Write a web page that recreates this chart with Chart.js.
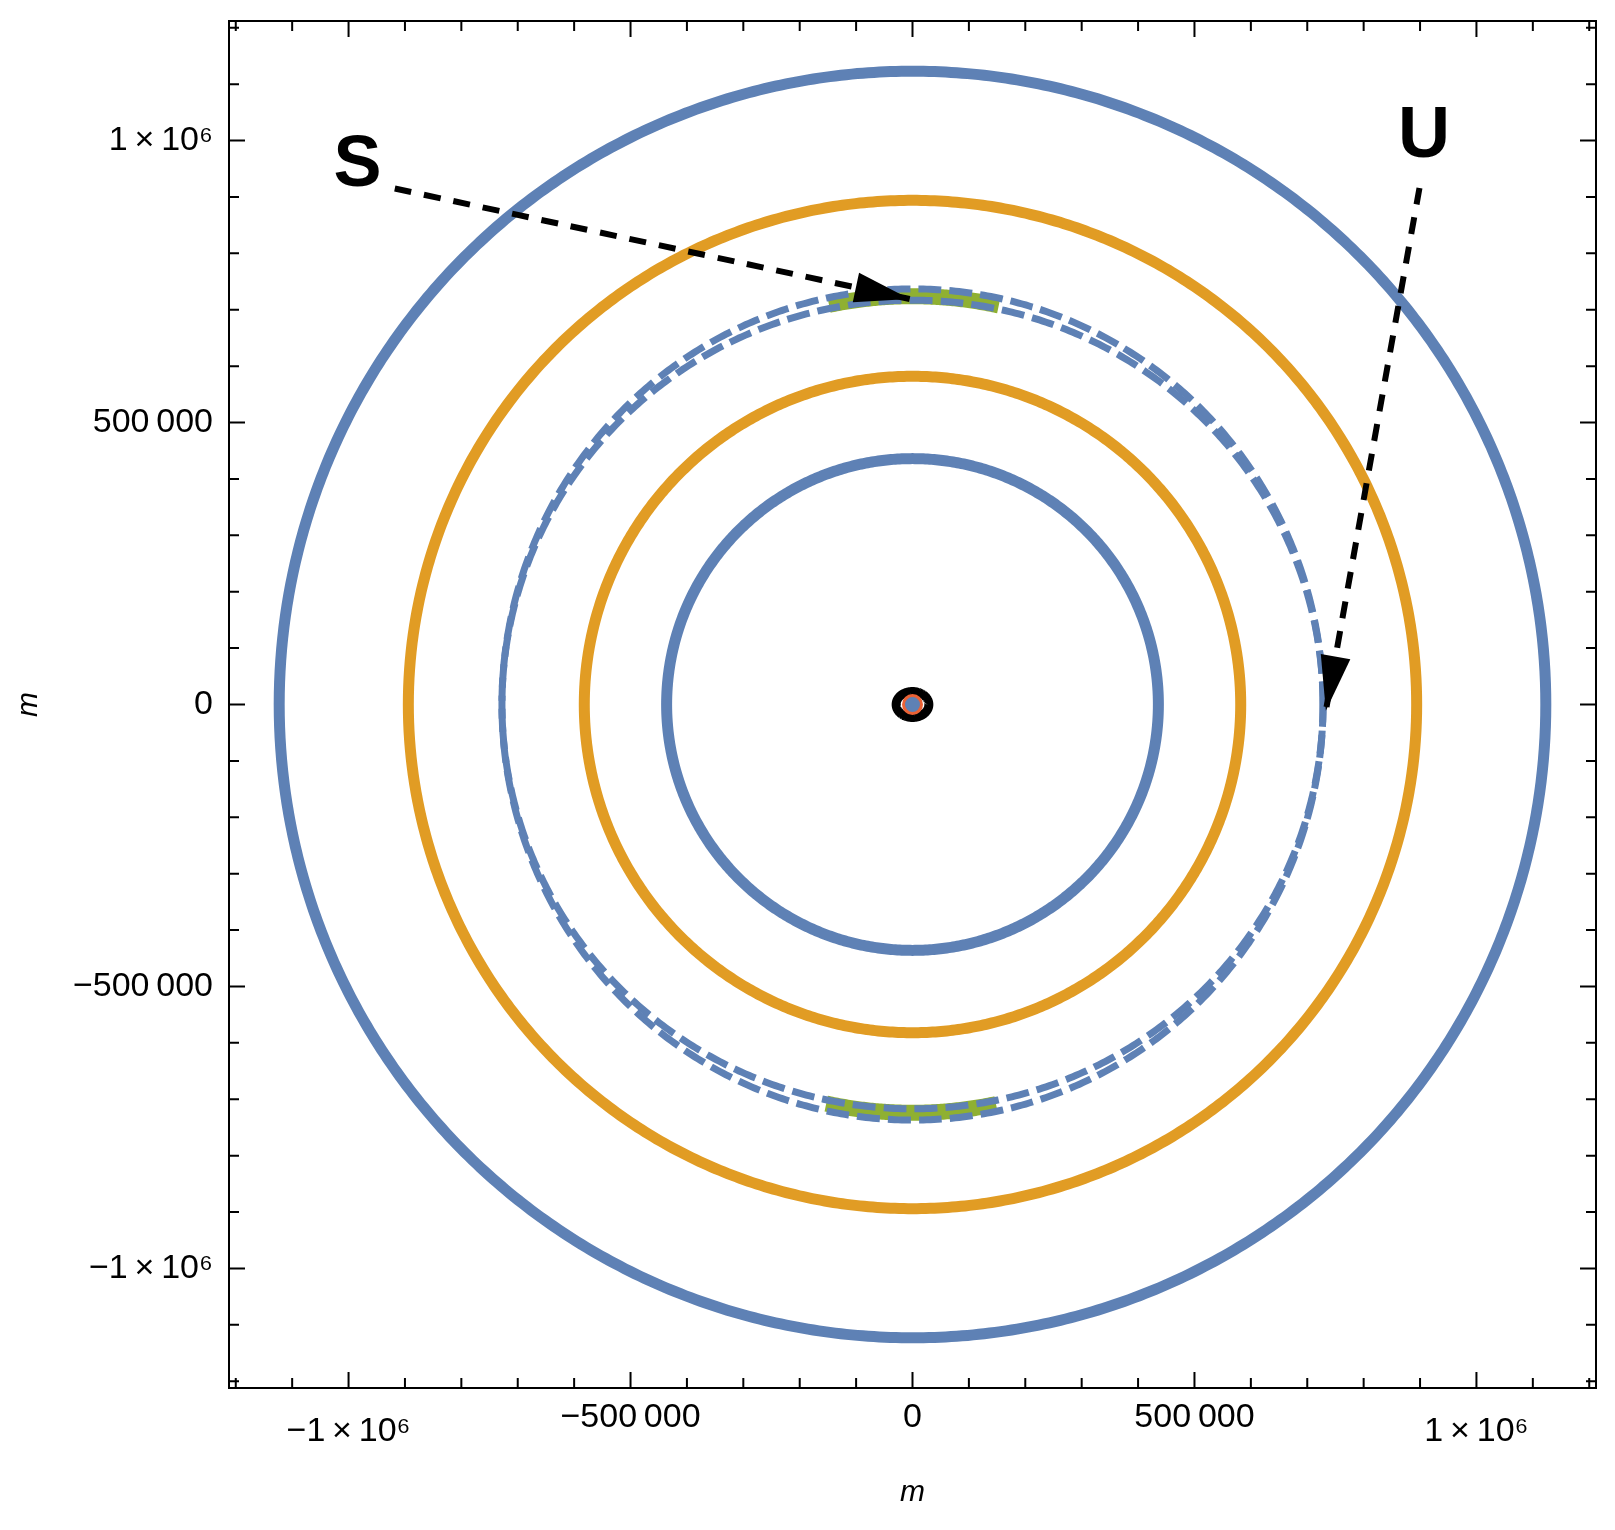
<!DOCTYPE html>
<html>
<head>
<meta charset="utf-8">
<script src="https://cdn.jsdelivr.net/npm/chart.js@4.4.1/dist/chart.umd.min.js"></script>
<style>
  body { margin: 0; background: #fff; }
  #wrap { width: 1615px; height: 1530px; }
</style>
</head>
<body>
<div id="wrap"><canvas id="orbits"></canvas></div>
<script>
// axis range and ticks (metres)
const axisMin = -1212000;
const axisMax = 1212000;
const majorTicks = [-1000000, -500000, 0, 500000, 1000000];
const majorLabels = ['−1\u2009×\u200910⁶', '−500\u2009000', '0', '500\u2009000', '1\u2009×\u200910⁶'];
const minorTicks = [-1200000, -1100000, -900000, -800000, -700000, -600000, -400000, -300000, -200000, -100000,
    100000, 200000, 300000, 400000, 600000, 700000, 800000, 900000, 1100000, 1200000];

// orbit sizes
const blueRadii = [436000, 1123000];
const orangeRadii = [582000, 894000];
const dashedRx = [728000, 728000];
const dashedRy = [737000, 717000];
const greenRadius = 724000;
const greenHalfSpan = 153000;
const coreRx = 29000;
const coreRy = 23000;

// annotation arrows: start -> tip
const arrowSx = [-918000, -5000];
const arrowSy = [915000, 719000];
const arrowUx = [899000, 733000];
const arrowUy = [916000, -11000];
const labelText = ['S', 'U'];
const labelX = [-984000, 907000];
const labelY = [955000, 1006000];

const BLUE = '#5E81B5';
const ORANGE = '#E19C24';
const GREEN = '#8FB032';
const RED = '#EB6235';

function ellipse(rx, ry, a0 = 0, a1 = 360, step = 1) {
    const pts = [];
    for (let a = a0; a <= a1 + 1e-9; a += step) {
        const t = a * Math.PI / 180;
        pts.push({ x: rx * Math.cos(t), y: ry * Math.sin(t) });
    }
    return pts;
}

function line(data, color, width, order, dash) {
    return {
        data: data,
        showLine: true,
        borderColor: color,
        borderWidth: width,
        borderDash: dash || [],
        borderJoinStyle: 'round',
        pointRadius: 0,
        // tiny tension keeps Chart.js off its x-sorted fast path, which breaks closed curves
        tension: 0.0001,
        fill: false,
        order: order,
    };
}

const datasets = [];
blueRadii.forEach(r => datasets.push(line(ellipse(r, r), BLUE, 11, 5)));
orangeRadii.forEach(r => datasets.push(line(ellipse(r, r), ORANGE, 11, 5)));

// green arcs at top and bottom of the dashed orbit
const greenA = Math.acos(greenHalfSpan / greenRadius) * 180 / Math.PI;
datasets.push(line(ellipse(greenRadius, greenRadius, greenA, 180 - greenA, 0.5), GREEN, 16, 4));
datasets.push(line(ellipse(greenRadius, greenRadius, 180 + greenA, 360 - greenA, 0.5), GREEN, 16, 4));

dashedRx.forEach((rx, i) => datasets.push(line(ellipse(rx, dashedRy[i]), BLUE, 7, 3, [23, 8])));

// small core at the origin
datasets.push(line(ellipse(coreRx, coreRy), '#000', 9, 2));
datasets.push({
    data: [{ x: 0, y: 0 }],
    pointRadius: 9,
    backgroundColor: BLUE,
    borderColor: RED,
    borderWidth: 3,
    order: 1,
});

// arrows
datasets.push(line(arrowSx.map((x, i) => ({ x: x, y: arrowSy[i] })), '#000', 6, 0, [17, 13]));
datasets.push(line(arrowUx.map((x, i) => ({ x: x, y: arrowUy[i] })), '#000', 6, 0, [17, 13]));

const FONT = "'Liberation Sans', Arial, Helvetica, sans-serif";

function arrowHead(ctx, x0, y0, x1, y1, len, half) {
    const ang = Math.atan2(y1 - y0, x1 - x0);
    const bx = x1 - len * Math.cos(ang);
    const by = y1 - len * Math.sin(ang);
    ctx.beginPath();
    ctx.moveTo(x1, y1);
    ctx.lineTo(bx + half * Math.sin(ang), by - half * Math.cos(ang));
    ctx.lineTo(bx - half * Math.sin(ang), by + half * Math.cos(ang));
    ctx.closePath();
    ctx.fill();
}

const framePlugin = {
    id: 'frame',
    afterDatasetsDraw(chart) {
        const { ctx, chartArea: a, scales: { x, y } } = chart;
        ctx.save();

        // arrow heads
        ctx.fillStyle = '#000';
        arrowHead(ctx, x.getPixelForValue(arrowSx[0]), y.getPixelForValue(arrowSy[0]),
            x.getPixelForValue(arrowSx[1]), y.getPixelForValue(arrowSy[1]), 55, 15);
        arrowHead(ctx, x.getPixelForValue(arrowUx[0]), y.getPixelForValue(arrowUy[0]),
            x.getPixelForValue(arrowUx[1]), y.getPixelForValue(arrowUy[1]), 55, 15);

        // S / U labels
        ctx.font = 'bold 72px ' + FONT;
        ctx.textAlign = 'center';
        ctx.textBaseline = 'middle';
        labelText.forEach((t, i) => {
            ctx.fillText(t, x.getPixelForValue(labelX[i]), y.getPixelForValue(labelY[i]));
        });

        // frame with inward ticks on all sides
        ctx.strokeStyle = '#000';
        ctx.lineWidth = 2;
        ctx.strokeRect(a.left, a.top, a.right - a.left, a.bottom - a.top);
        const tick = (v, len) => {
            const px = x.getPixelForValue(v);
            const py = y.getPixelForValue(v);
            ctx.moveTo(px, a.bottom); ctx.lineTo(px, a.bottom - len);
            ctx.moveTo(px, a.top); ctx.lineTo(px, a.top + len);
            ctx.moveTo(a.left, py); ctx.lineTo(a.left + len, py);
            ctx.moveTo(a.right, py); ctx.lineTo(a.right - len, py);
        };
        ctx.beginPath();
        majorTicks.forEach(v => tick(v, 16));
        minorTicks.forEach(v => tick(v, 10));
        ctx.stroke();
        ctx.restore();
    }
};

// no extra room for half-labels at the ends: the frame is fixed like the original
function noPad(s) {
    s.paddingTop = 0;
    s.paddingBottom = 0;
    s.paddingLeft = 0;
    s.paddingRight = 0;
}

new Chart(document.getElementById('orbits'), {
    type: 'scatter',
    data: { datasets: datasets },
    options: {
        responsive: true,
        maintainAspectRatio: false,
        animation: false,
        layout: { padding: { top: 21, right: 19, left: 0, bottom: 0 } },
        plugins: {
            legend: { display: false },
            tooltip: { enabled: false },
        },
        scales: {
            x: {
                type: 'linear',
                min: axisMin,
                max: axisMax,
                afterBuildTicks: s => { s.ticks = majorTicks.map(v => ({ value: v })); },
                afterFit: s => { s.height = 142; noPad(s); },
                grid: { display: false, drawTicks: false },
                border: { display: false },
                ticks: {
                    padding: 9,
                    color: '#000',
                    autoSkip: false,
                    maxRotation: 0,
                    font: c => ({
                        family: FONT,
                        size: 34,
                        style: 'normal',
                        weight: 'normal',
                        // the "×10⁶" labels sit lower, as in the original
                        lineHeight: c.tick && Math.abs(c.tick.value) === 1000000 ? 2.05 : 1.2,
                    }),
                    callback: v => majorLabels[majorTicks.indexOf(v)],
                },
                title: {
                    display: true,
                    text: 'm',
                    color: '#000',
                    font: { family: FONT, size: 30, style: 'italic' },
                    padding: { top: 0, bottom: 19 },
                },
            },
            y: {
                type: 'linear',
                min: axisMin,
                max: axisMax,
                afterBuildTicks: s => { s.ticks = majorTicks.map(v => ({ value: v })); },
                afterFit: s => { s.width = 229; noPad(s); },
                grid: { display: false, drawTicks: false },
                border: { display: false },
                ticks: {
                    padding: 16,
                    color: '#000',
                    autoSkip: false,
                    font: { family: FONT, size: 34, lineHeight: 1.2 },
                    callback: v => majorLabels[majorTicks.indexOf(v)],
                },
                title: {
                    display: true,
                    text: 'm',
                    color: '#000',
                    font: { family: FONT, size: 30, style: 'italic' },
                    padding: { top: 11, bottom: 0 },
                },
            },
        },
    },
    plugins: [framePlugin],
});
</script>
</body>
</html>
